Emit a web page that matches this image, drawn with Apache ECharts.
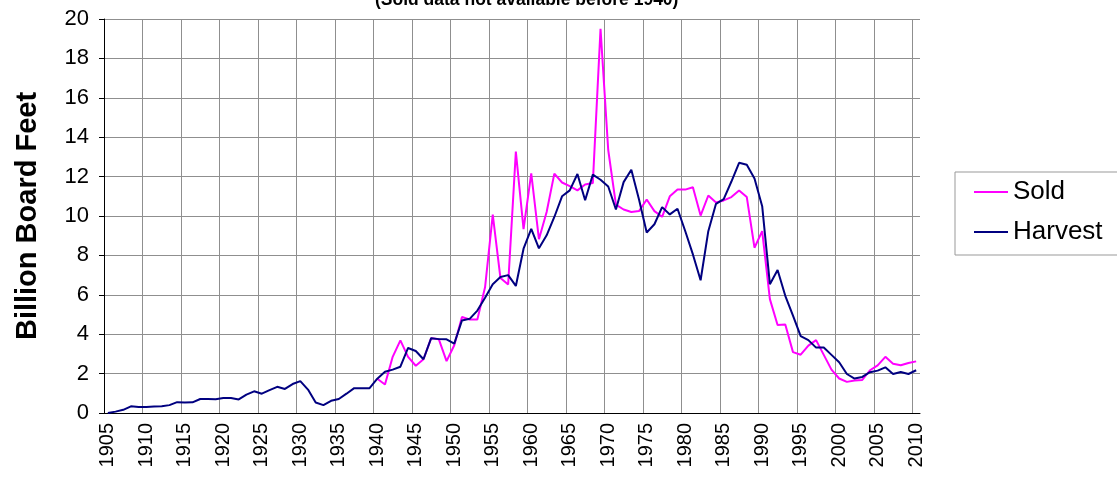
<!DOCTYPE html>
<html>
<head>
<meta charset="utf-8">
<script src="https://cdn.jsdelivr.net/npm/echarts@6/dist/echarts.min.js"></script>
<style>
  html, body { margin: 0; padding: 0; background: #fff; }
  #chart { width: 1117px; height: 477px; }
</style>
</head>
<body>
<div id="chart"></div>
<script>
// years 1905..2010
const years = [];
for (let y = 1905; y <= 2010; y++) years.push(String(y));

// billion board feet, harvested
const harvest = [
  0, 0.07, 0.16, 0.34, 0.31,
  0.31, 0.33, 0.34, 0.4, 0.55, 0.53, 0.54, 0.71, 0.71, 0.7,
  0.76, 0.76, 0.69, 0.93, 1.1, 0.98, 1.16, 1.33, 1.22, 1.47,
  1.62, 1.19, 0.53, 0.4, 0.62, 0.71, 0.98, 1.26, 1.26, 1.26,
  1.74, 2.09, 2.2, 2.35, 3.3, 3.15, 2.73, 3.8, 3.75, 3.74,
  3.52, 4.7, 4.78, 5.2, 5.85, 6.54, 6.9, 7.0, 6.45, 8.34,
  9.35, 8.36, 9.02, 9.95, 11.0, 11.3, 12.13, 10.8, 12.1, 11.84,
  11.5, 10.33, 11.72, 12.35, 10.84, 9.16, 9.58, 10.45, 10.08, 10.37,
  9.24, 8.05, 6.74, 9.23, 10.62, 10.86, 11.75, 12.7, 12.6, 11.9,
  10.5, 6.54, 7.26, 5.95, 4.94, 3.9, 3.7, 3.32, 3.32, 2.95,
  2.58, 1.98, 1.75, 1.83, 2.07, 2.15, 2.32, 1.98, 2.08, 1.98,
  2.17
];

// billion board feet, sold (no data before 1940)
const soldFrom1940 = [
  1.74, 1.45, 2.85, 3.69, 2.85, 2.4, 2.73, 3.8, 3.74, 2.63,
  3.44, 4.87, 4.75, 4.75, 6.38, 10.07, 6.85, 6.52, 13.27, 9.33,
  12.16, 8.82, 10.2, 12.15, 11.7, 11.52, 11.3, 11.6, 11.67, 19.5,
  13.35, 10.58, 10.33, 10.2, 10.25, 10.84, 10.25, 9.96, 11.0, 11.34,
  11.34, 11.46, 10.02, 11.04, 10.69, 10.79, 10.96, 11.3, 10.96, 8.39,
  9.23, 5.78, 4.47, 4.49, 3.09, 2.96, 3.42, 3.7, 2.95, 2.2,
  1.75, 1.58, 1.65, 1.68, 2.17, 2.42, 2.85, 2.5, 2.42, 2.54,
  2.62
];
const sold = years.map((y, i) => (+y < 1940 ? null : soldFrom1940[i - 35]));

const font = 'Liberation Sans, Arial, sans-serif';
const gridColor = '#8f8f8f';

// one colour per vertical grid line (every 5 years); the closing edge line is hidden
const vLineColors = [];
for (let i = 0; i < years.length; i += 5) vLineColors.push(gridColor);
vLineColors.push('rgba(0,0,0,0)');

const chart = echarts.init(document.getElementById('chart'));
chart.setOption({
  animation: false,
  title: {
    text: '(Sold data not available before 1940)',
    left: 375,
    top: -9,
    padding: 0,
    textStyle: { fontFamily: font, fontSize: 17.5, fontWeight: 'bold', color: '#000' }
  },
  legend: {
    orient: 'vertical',
    left: 955,
    top: 172,
    padding: [7, 40, 10, 19],
    itemGap: 14,
    itemWidth: 34,
    itemHeight: 2,
    icon: 'rect',
    borderColor: '#999',
    borderWidth: 1,
    textStyle: { fontFamily: font, fontSize: 26, color: '#000' },
    data: ['Sold', 'Harvest']
  },
  grid: { left: 104, right: 197, top: 19, bottom: 64 },
  xAxis: {
    type: 'category',
    data: years,
    boundaryGap: true,
    axisLine: { lineStyle: { color: '#000', width: 1 } },
    axisTick: { interval: 4, length: 5, lineStyle: { color: '#000' } },
    axisLabel: {
      interval: 4, rotate: 90, margin: 10,
      fontFamily: font, fontSize: 20, color: '#000'
    },
    splitLine: { show: true, interval: 4, lineStyle: { color: vLineColors, width: 1 } }
  },
  yAxis: {
    type: 'value',
    min: 0,
    max: 20,
    interval: 2,
    name: 'Billion Board Feet',
    nameLocation: 'middle',
    nameGap: 62,
    nameTextStyle: { fontFamily: font, fontSize: 29, fontWeight: 'bold', color: '#000' },
    axisLine: { show: true, lineStyle: { color: '#000', width: 1 } },
    axisTick: { show: true, length: 5, lineStyle: { color: '#000' } },
    axisLabel: { margin: 15, fontFamily: font, fontSize: 22, color: '#000' },
    splitLine: { show: true, lineStyle: { color: gridColor, width: 1 } }
  },
  series: [
    {
      name: 'Sold',
      type: 'line',
      data: sold,
      symbol: 'none',
      connectNulls: false,
      lineStyle: { color: '#ff00ff', width: 2 },
      itemStyle: { color: '#ff00ff' }
    },
    {
      name: 'Harvest',
      type: 'line',
      data: harvest,
      symbol: 'none',
      lineStyle: { color: '#000080', width: 2 },
      itemStyle: { color: '#000080' }
    }
  ]
});
</script>
</body>
</html>
